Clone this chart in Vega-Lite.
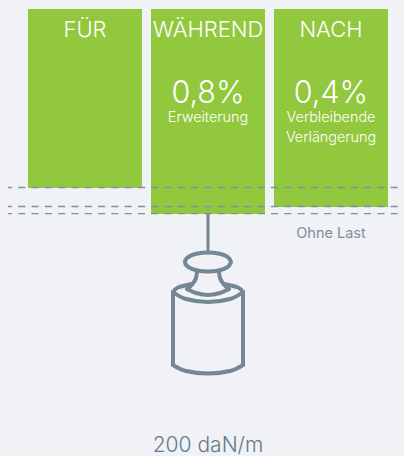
{"$schema":"https://vega.github.io/schema/vega-lite/v6.json","width":404,"height":456,"padding":0,"autosize":{"type":"none"},"background":"#F0F2F5","config":{"view":{"stroke":null},"font":"Inter","axis":{"disable":true}},"resolve":{"scale":{"x":"independent"}},"layer":[
{"data":{"values":[{"phase":"FÜR","top":9,"bottom":188},{"phase":"WÄHREND","top":9,"bottom":214},{"phase":"NACH","top":9,"bottom":207}]},"mark":{"type":"bar","color":"#92C83E"},"encoding":{"x":{"field":"phase","type":"nominal","sort":null,"axis":null,"scale":{"type":"band","domain":["FÜR","WÄHREND","NACH"],"paddingInner":0.0732,"paddingOuter":0.1789,"align":0.636}},"y":{"field":"top","type":"quantitative","axis":null,"scale":{"domain":[456,0],"nice":false,"zero":false}},"y2":{"field":"bottom"}}},
{"data":{"values":[{"level":187.5,"from":8,"to":398},{"level":206.5,"from":8,"to":398},{"level":213.7,"from":8,"to":398}]},"mark":{"type":"rule","color":"#7F8FA3","strokeWidth":1.3,"strokeDash":[7,6.3],"strokeDashOffset":3},"encoding":{"x":{"field":"from","type":"quantitative","axis":null,"scale":{"domain":[0,404],"nice":false,"zero":false}},"x2":{"field":"to"},"y":{"field":"level","type":"quantitative","axis":null,"scale":{"domain":[456,0],"nice":false,"zero":false}}}},
{"data":{"values":[
{"part":"knob","i":0,"px":231,"py":262},{"part":"knob","i":1,"px":227.9,"py":266.8},{"part":"knob","i":2,"px":219.5,"py":270.2},{"part":"knob","i":3,"px":208,"py":271.5},{"part":"knob","i":4,"px":196.5,"py":270.2},{"part":"knob","i":5,"px":188.1,"py":266.8},{"part":"knob","i":6,"px":185,"py":262},{"part":"knob","i":7,"px":188.1,"py":257.2},{"part":"knob","i":8,"px":196.5,"py":253.8},{"part":"knob","i":9,"px":208,"py":252.5},{"part":"knob","i":10,"px":219.5,"py":253.8},{"part":"knob","i":11,"px":227.9,"py":257.2},{"part":"knob","i":12,"px":231,"py":262},
{"part":"neckL","i":0,"px":197,"py":271},{"part":"neckL","i":1,"px":196,"py":278},{"part":"neckL","i":2,"px":192.5,"py":284},{"part":"neckL","i":3,"px":187,"py":289},
{"part":"neckR","i":0,"px":219,"py":271},{"part":"neckR","i":1,"px":220,"py":278},{"part":"neckR","i":2,"px":223.5,"py":284},{"part":"neckR","i":3,"px":229,"py":289},
{"part":"seat","i":0,"px":187,"py":289},{"part":"seat","i":1,"px":196,"py":293},{"part":"seat","i":2,"px":208,"py":295},{"part":"seat","i":3,"px":220,"py":293},{"part":"seat","i":4,"px":229,"py":289},
{"part":"shoulderL","i":0,"px":173,"py":292},{"part":"shoulderL","i":1,"px":178,"py":287.5},{"part":"shoulderL","i":2,"px":192,"py":284},
{"part":"shoulderR","i":0,"px":243,"py":292},{"part":"shoulderR","i":1,"px":238,"py":287.5},{"part":"shoulderR","i":2,"px":224,"py":284},
{"part":"rim","i":0,"px":173,"py":292},{"part":"rim","i":1,"px":186,"py":299},{"part":"rim","i":2,"px":208,"py":302},{"part":"rim","i":3,"px":230,"py":299},{"part":"rim","i":4,"px":243,"py":292},
{"part":"sideL","i":0,"px":173,"py":292},{"part":"sideL","i":1,"px":173,"py":365},
{"part":"sideR","i":0,"px":243,"py":292},{"part":"sideR","i":1,"px":243,"py":365},
{"part":"base","i":0,"px":173,"py":365},{"part":"base","i":1,"px":186,"py":371},{"part":"base","i":2,"px":208,"py":373.5},{"part":"base","i":3,"px":230,"py":371},{"part":"base","i":4,"px":243,"py":365}
]},"mark":{"type":"line","color":"#738795","strokeWidth":4,"interpolate":"cardinal","strokeCap":"round"},"encoding":{"detail":{"field":"part"},"order":{"field":"i","type":"quantitative"},"x":{"field":"px","type":"quantitative","axis":null,"scale":{"domain":[0,404],"nice":false,"zero":false}},"y":{"field":"py","type":"quantitative","axis":null,"scale":{"domain":[456,0],"nice":false,"zero":false}}}},
{"data":{"values":[{"px":208,"a":214,"b":252}]},"mark":{"type":"rule","color":"#738795","strokeWidth":3},"encoding":{"x":{"field":"px","type":"quantitative","axis":null,"scale":{"domain":[0,404],"nice":false,"zero":false}},"y":{"field":"a","type":"quantitative","axis":null,"scale":{"domain":[456,0],"nice":false,"zero":false}},"y2":{"field":"b"}}},
{"data":{"values":[{"phase":"FÜR","py":36.5},{"phase":"WÄHREND","py":36.5},{"phase":"NACH","py":36.5}]},"mark":{"type":"text","color":"#FFFFFF","fontSize":22,"fontWeight":300,"align":"center","baseline":"alphabetic"},"encoding":{"text":{"field":"phase"},"x":{"field":"phase","type":"nominal","sort":null,"axis":null,"scale":{"type":"band","domain":["FÜR","WÄHREND","NACH"],"paddingInner":0.0732,"paddingOuter":0.1789,"align":0.636}},"y":{"field":"py","type":"quantitative","axis":null,"scale":{"domain":[456,0],"nice":false,"zero":false}}}},
{"data":{"values":[{"phase":"WÄHREND","t":"0,8%","py":103},{"phase":"NACH","t":"0,4%","py":103}]},"mark":{"type":"text","color":"#FFFFFF","fontSize":30.5,"fontWeight":300,"align":"center","baseline":"alphabetic"},"encoding":{"text":{"field":"t"},"x":{"field":"phase","type":"nominal","sort":null,"axis":null,"scale":{"type":"band","domain":["FÜR","WÄHREND","NACH"],"paddingInner":0.0732,"paddingOuter":0.1789,"align":0.636}},"y":{"field":"py","type":"quantitative","axis":null,"scale":{"domain":[456,0],"nice":false,"zero":false}}}},
{"data":{"values":[{"phase":"WÄHREND","t":"Erweiterung","py":122},{"phase":"NACH","t":"Verbleibende","py":122},{"phase":"NACH","t":"Verlängerung","py":142}]},"mark":{"type":"text","color":"#FFFFFF","fontSize":14.4,"fontWeight":300,"align":"center","baseline":"alphabetic"},"encoding":{"text":{"field":"t"},"x":{"field":"phase","type":"nominal","sort":null,"axis":null,"scale":{"type":"band","domain":["FÜR","WÄHREND","NACH"],"paddingInner":0.0732,"paddingOuter":0.1789,"align":0.636}},"y":{"field":"py","type":"quantitative","axis":null,"scale":{"domain":[456,0],"nice":false,"zero":false}}}},
{"data":{"values":[{"phase":"NACH","t":"Ohne Last","py":238}]},"mark":{"type":"text","color":"#7E8F9E","fontSize":14.5,"fontWeight":400,"align":"center","baseline":"alphabetic"},"encoding":{"text":{"field":"t"},"x":{"field":"phase","type":"nominal","sort":null,"axis":null,"scale":{"type":"band","domain":["FÜR","WÄHREND","NACH"],"paddingInner":0.0732,"paddingOuter":0.1789,"align":0.636}},"y":{"field":"py","type":"quantitative","axis":null,"scale":{"domain":[456,0],"nice":false,"zero":false}}}},
{"data":{"values":[{"phase":"WÄHREND","t":"200 daN/m","py":452}]},"mark":{"type":"text","color":"#66798A","fontSize":21,"fontWeight":300,"align":"center","baseline":"alphabetic"},"encoding":{"text":{"field":"t"},"x":{"field":"phase","type":"nominal","sort":null,"axis":null,"scale":{"type":"band","domain":["FÜR","WÄHREND","NACH"],"paddingInner":0.0732,"paddingOuter":0.1789,"align":0.636}},"y":{"field":"py","type":"quantitative","axis":null,"scale":{"domain":[456,0],"nice":false,"zero":false}}}}
]}
